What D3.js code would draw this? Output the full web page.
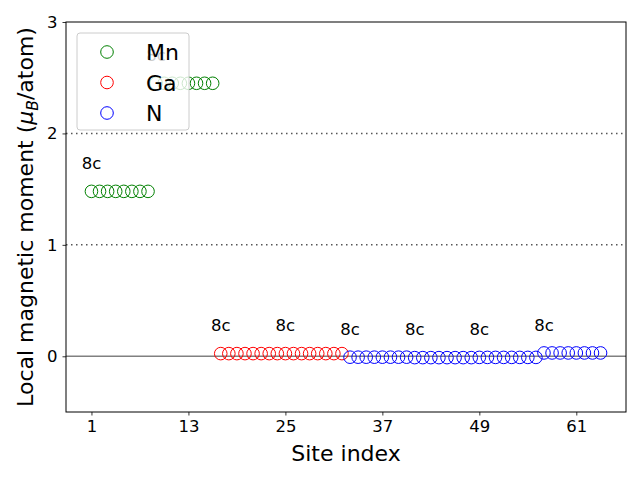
<!DOCTYPE html>
<html><head><meta charset="utf-8">
<script src="https://cdn.jsdelivr.net/npm/d3@7"></script>
<style>body{margin:0;background:#fff;} text{font-family:"DejaVu Sans",sans-serif;}</style>
</head><body>
<svg id="chart" width="640" height="480"></svg>
<script>
const elements = ["Mn", "Ga", "N"];
const colors = ["green", "red", "blue"];
const mnSites = [1,2,3,4,5,6,7,8,9,10,11,12,13,14,15,16];
const mnValues = [1.48,1.48,1.48,1.48,1.48,1.48,1.48,1.48,2.45,2.45,2.45,2.45,2.45,2.45,2.45,2.45];
const gaSites = [17,18,19,20,21,22,23,24,25,26,27,28,29,30,31,32];
const gaValues = [0.024,0.024,0.024,0.024,0.024,0.024,0.024,0.024,0.024,0.024,0.024,0.024,0.024,0.024,0.024,0.024];
const nSites = [33,34,35,36,37,38,39,40,41,42,43,44,45,46,47,48,49,50,51,52,53,54,55,56,57,58,59,60,61,62,63,64];
const nValues = [-0.008,-0.008,-0.008,-0.008,-0.008,-0.008,-0.008,-0.008,-0.012,-0.012,-0.012,-0.012,-0.012,-0.012,-0.012,-0.012,-0.010,-0.010,-0.010,-0.010,-0.010,-0.010,-0.010,-0.010,0.03,0.03,0.03,0.03,0.03,0.03,0.03,0.03];
const labelSites = [1,9,17,25,33,41,49,57];
const labelValues = [1.48,2.45,0.024,0.024,-0.008,-0.012,-0.010,0.03];
const labelText = "8c";
const xTicks = [1,13,25,37,49,61];
const yTicks = [0,1,2,3];
const dottedLevels = [1,2];

const svg = d3.select("#chart");
const L = 66, R = 626, T = 22, B = 412;
const x = d3.scaleLinear().domain([1 - 63*0.05, 64 + 63*0.05]).range([L, R]);
const y = d3.scaleLinear().domain([-0.5, 3]).range([B, T]);

// reference lines
svg.selectAll(".dot").data(dottedLevels).enter().append("line")
  .attr("x1", L).attr("x2", R).attr("y1", d => y(d)).attr("y2", d => y(d))
  .attr("stroke", "#555").attr("stroke-width", 1.5).attr("stroke-dasharray", "1.5,3.5");
svg.append("line").attr("x1", L).attr("x2", R).attr("y1", y(0)).attr("y2", y(0))
  .attr("stroke", "gray").attr("stroke-width", 1.5);

const series = [[mnSites, mnValues], [gaSites, gaValues], [nSites, nValues]];
series.forEach((s, i) => {
  svg.append("g").selectAll("circle").data(s[0].map((v, j) => [v, s[1][j]])).enter()
    .append("circle").attr("cx", d => x(d[0])).attr("cy", d => y(d[1])).attr("r", 6.3)
    .attr("fill", "none").attr("stroke", colors[i]).attr("stroke-width", 1);
});

svg.append("g").selectAll("text").data(labelSites.map((s, j) => [s, labelValues[j]])).enter()
  .append("text").attr("x", d => x(d[0])).attr("y", d => y(d[1] + 0.2))
  .attr("text-anchor", "middle").attr("font-size", 16.5).text(labelText);

// axes
const xAxis = svg.append("g").attr("transform", `translate(0,${B})`)
  .call(d3.axisBottom(x).tickValues(xTicks).tickSize(3.5).tickPadding(5).tickFormat(d3.format("d")));
const yAxis = svg.append("g").attr("transform", `translate(${L},0)`)
  .call(d3.axisLeft(y).tickValues(yTicks).tickSize(3.5).tickPadding(5).tickFormat(d3.format("d")));
[xAxis, yAxis].forEach(a => {
  a.select(".domain").remove();
  a.selectAll("text").attr("font-size", 16.5).attr("font-family", "DejaVu Sans").attr("fill", "#000");
  a.selectAll("line").attr("stroke", "#000").attr("stroke-width", 0.8);
});
svg.append("rect").attr("x", L).attr("y", T).attr("width", R - L).attr("height", B - T)
  .attr("fill", "none").attr("stroke", "#000").attr("stroke-width", 1);

svg.append("text").attr("x", (L + R) / 2).attr("y", 461).attr("text-anchor", "middle")
  .attr("font-size", 22).text("Site index");
const yl = svg.append("text").attr("transform", `translate(33,${(T + B) / 2}) rotate(-90)`)
  .attr("text-anchor", "middle").attr("font-size", 22);
yl.append("tspan").text("Local magnetic moment (");
yl.append("tspan").attr("font-style", "italic").text("μ");
yl.append("tspan").attr("font-style", "italic").attr("font-size", 15.5).attr("dy", 5).text("B");
yl.append("tspan").attr("dy", -5).text("/atom)");

// legend
const lg = svg.append("g");
lg.append("rect").attr("x", 77).attr("y", 33).attr("width", 112).attr("height", 97).attr("rx", 3)
  .attr("fill", "white").attr("fill-opacity", 0.8).attr("stroke", "#ccc").attr("stroke-width", 1);
elements.forEach((e, i) => {
  const cy = 52 + i * 30.5;
  lg.append("circle").attr("cx", 107).attr("cy", cy).attr("r", 6.3)
    .attr("fill", "none").attr("stroke", colors[i]).attr("stroke-width", 1);
  lg.append("text").attr("x", 146).attr("y", cy + 8).attr("font-size", 22).text(e);
});
</script>
</body></html>
